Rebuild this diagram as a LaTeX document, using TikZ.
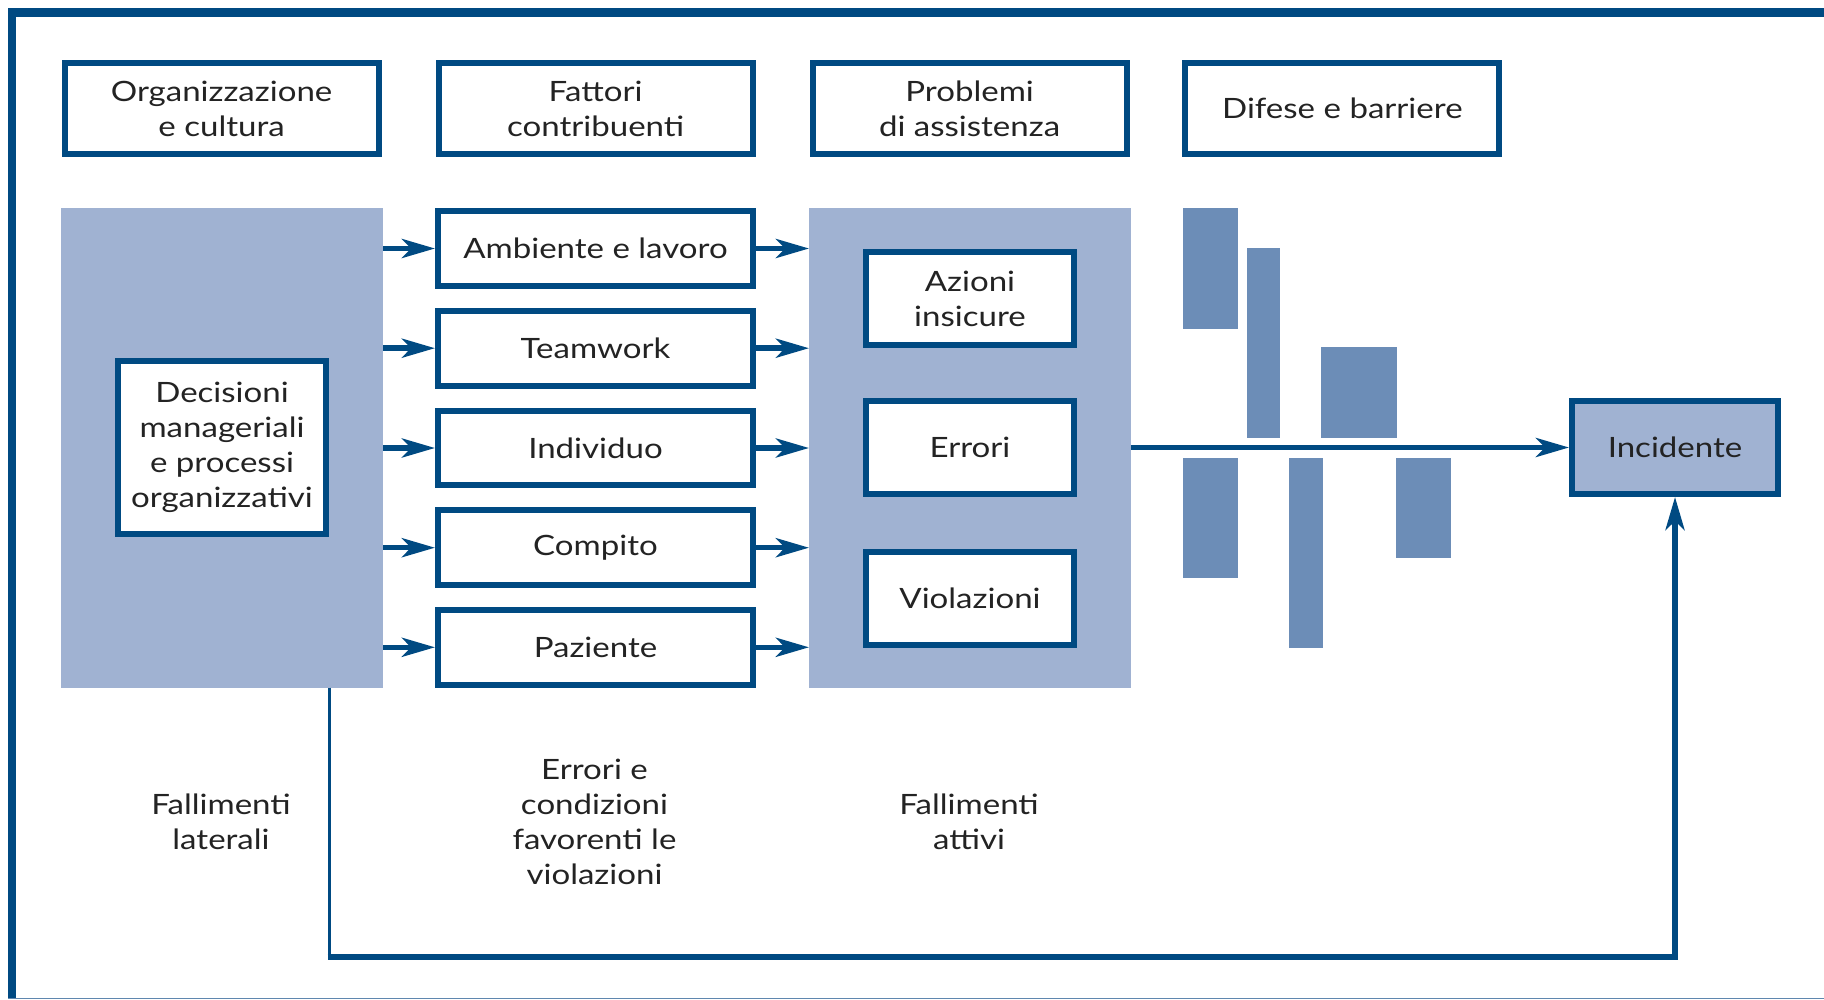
\documentclass[tikz,border=0pt]{standalone}
\usepackage{fontspec}
\setmainfont{Lato}[FakeStretch=1.18]
\usetikzlibrary{arrows.meta}
\definecolor{dblue}{RGB}{0,74,130}
\definecolor{panelc}{RGB}{160,178,210}
\definecolor{barc}{RGB}{108,141,183}
\definecolor{txtc}{RGB}{35,35,35}
\definecolor{thinc}{RGB}{95,135,175}
\begin{document}
\begin{tikzpicture}[x=0.5pt,y=-0.5pt,
  lbl/.style={font=\fontsize{14pt}{17.5pt}\selectfont, text=txtc, align=center, inner sep=0pt},
  bx/.style={lbl, draw=dblue, line width=3pt, fill=white},
  topbox/.style={bx, minimum width=157pt, minimum height=45.25pt},
  midbox/.style={bx, minimum width=157.5pt, minimum height=37.35pt},
  inbox/.style={bx, minimum width=104pt, minimum height=46.5pt},
  panel/.style={fill=panelc, inner sep=0pt, outer sep=0pt, minimum height=239.85pt},
  arr/.style={draw=dblue, line width=2.75pt, -{Stealth[length=16.5pt,width=9.5pt,inset=4.5pt]}}
]
\useasboundingbox (0,0) rectangle (1824,1000);
% frame
\fill[dblue] (8,8) rectangle (1824,17);
\fill[dblue] (8,8) rectangle (16,998);
\draw[thinc, line width=0.75pt] (8,998.5) -- (1824,998.5);
% headers
\node[topbox] (h1) at (221.6,108.7) {Organizzazione\\e cultura};
\node[topbox] (h2) at (595.6,108.7) {Fattori\\contribuenti};
\node[topbox] (h3) at (969.6,108.7) {Problemi\\di assistenza};
\node[topbox] (h4) at (1342.4,108.7) {Difese e barriere};
% panels
\node[panel, minimum width=161.25pt] (lp) at (221.75,447.85) {};
\node[panel, minimum width=161pt] (rp) at (970,447.85) {};
\node[bx, minimum width=104pt, minimum height=86.5pt] (dec) at (222,447.8) {Decisioni\\manageriali\\e processi\\organizzativi};
% middle column
\node[midbox] (m1) at (595.5,248.5) {Ambiente e lavoro};
\node[midbox] (m2) at (595.5,348.2) {Teamwork};
\node[midbox] (m3) at (595.5,448) {Individuo};
\node[midbox] (m4) at (595.5,547.7) {Compito};
\node[midbox] (m5) at (595.5,647.3) {Paziente};
% inner boxes
\node[inbox] (a1) at (970,298.5) {Azioni\\insicure};
\node[inbox] (a2) at (970,447.8) {Errori};
\node[inbox] (a3) at (970,598) {Violazioni};
% incidente
\node[inbox, fill=panelc, minimum width=103pt] (inc) at (1675,447.5) {Incidente};
% barriers
\fill[barc] (1183,208) rectangle (1238,329);
\fill[barc] (1247,248.5) rectangle (1280,438);
\fill[barc] (1321,346.7) rectangle (1397,438);
\fill[barc] (1183,457.5) rectangle (1238,578);
\fill[barc] (1289,457.5) rectangle (1323,648);
\fill[barc] (1396,457.5) rectangle (1451,558);
% arrows
\foreach \m in {m1,m2,m3,m4,m5}{
  \draw[arr] (lp.east |- \m.west) -- (\m.west);
  \draw[arr] (\m.east) -- (rp.west |- \m.east);
}
\draw[arr] (rp.east |- inc.west) -- (inc.west);
% feedback loop
\coordinate (fb) at (0,957);
\coordinate (fbl) at (dec.east |- fb);
\draw[dblue, line width=1.5pt] (lp.south -| dec.east) -- (fbl);
\draw[arr] ([xshift=-0.75pt]fbl) -- (inc.south |- fb) -- (inc.south);
% labels
\node[lbl] (l1) at (221,822) {Fallimenti\\laterali};
\node[lbl] (l2) at (594.5,822) {Errori e\\condizioni\\favorenti le\\violazioni};
\node[lbl] (l3) at (969,822) {Fallimenti\\attivi};
\end{tikzpicture}
\end{document}
